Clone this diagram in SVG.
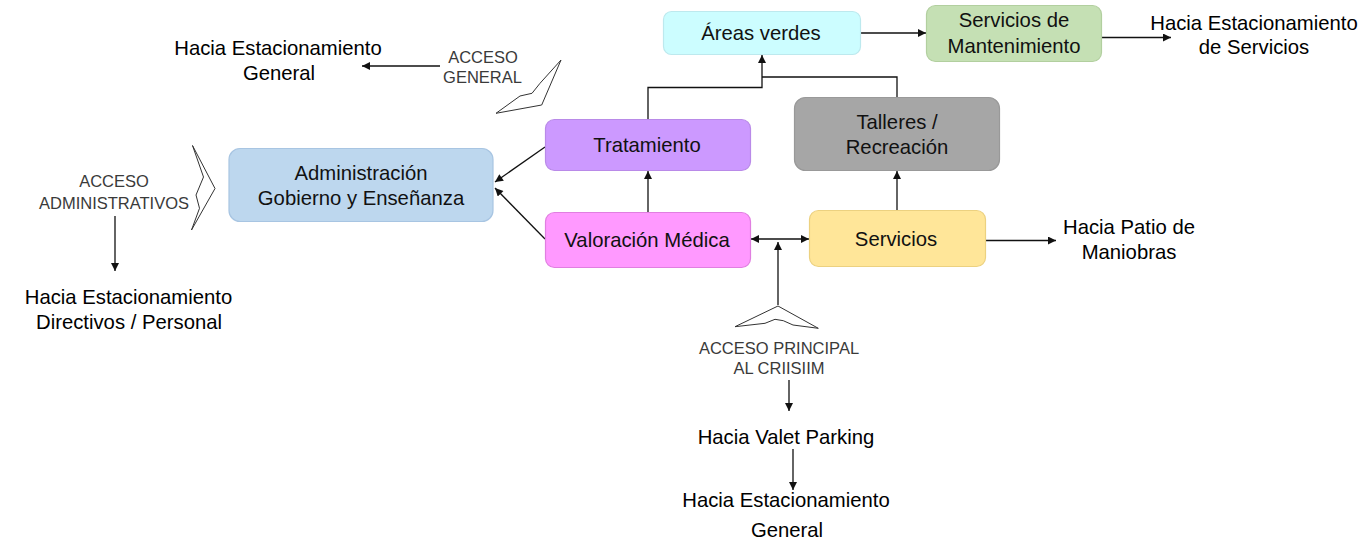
<svg xmlns="http://www.w3.org/2000/svg" width="1363" height="544" viewBox="0 0 1363 544">
<defs>
<marker id="ah" viewBox="0 0 10 10" refX="10" refY="5" markerWidth="9" markerHeight="8" markerUnits="userSpaceOnUse" orient="auto-start-reverse">
<path d="M0,0 L10,5 L0,10 z" fill="#111"/>
</marker>
<style>
.box{stroke-width:1.2}
.lbl{font-family:"Liberation Sans",Arial,sans-serif;font-size:20.3px;fill:#111;text-anchor:middle}
.txt{font-family:"Liberation Sans",Arial,sans-serif;font-size:20.3px;fill:#000;text-anchor:middle}
.acc{font-family:"Liberation Sans",Arial,sans-serif;font-size:16.5px;fill:#3a3a3a;text-anchor:middle}
.ln{fill:none;stroke:#111;stroke-width:1.3}
.chev{fill:#fff;stroke:#333;stroke-width:1}
</style>
</defs>
<rect width="1363" height="544" fill="#fff"/>

<g id="connectors">
<path class="ln" d="M545,147 L495,182" marker-end="url(#ah)"/>
<path class="ln" d="M545,239 L495,188" marker-end="url(#ah)"/>
<path class="ln" d="M648,212 L648,171" marker-end="url(#ah)"/>
<path class="ln" d="M648,119 L648,87.5 L762,87.5 L762,55" marker-end="url(#ah)"/>
<path class="ln" d="M897,97 L897,77 L762,77"/>
<path class="ln" d="M897,211 L897,171" marker-end="url(#ah)"/>
<path class="ln" d="M861,33 L926,33" marker-end="url(#ah)"/>
<path class="ln" d="M1102,37.5 L1171,37.5" marker-end="url(#ah)"/>
<path class="ln" d="M985,240.5 L1056,240.5" marker-end="url(#ah)"/>
<path class="ln" d="M751,239 L809,239" marker-start="url(#ah)" marker-end="url(#ah)"/>
<path class="ln" d="M778,305 L778,242" marker-end="url(#ah)"/>
<path class="ln" d="M440,66 L362,66" marker-end="url(#ah)"/>
<path class="ln" d="M115,216 L115,271" marker-end="url(#ah)"/>
<path class="ln" d="M789,380 L789,411" marker-end="url(#ah)"/>
<path class="ln" d="M793,449 L793,490" marker-end="url(#ah)"/>
</g>

<g id="acceso-general">
<polygon class="chev" points="561,60 541.7,105 496,113.3 520,96 532,93.3 540,83.3"/>
<text class="acc" x="483" y="62.5">ACCESO</text>
<text class="acc" x="482.5" y="82.5">GENERAL</text>
</g>

<g id="acceso-administrativos">
<polygon class="chev" points="192.5,145.5 215,188.5 191.5,230 199.5,208.3 196,195 203.5,177"/>
<text class="acc" x="114" y="187">ACCESO</text>
<text class="acc" x="114" y="208.5">ADMINISTRATIVOS</text>
</g>

<g id="acceso-principal">
<polygon class="chev" points="778,306 818.3,328.3 793,325 783.3,320.7 775,319.3 765,323.3 735,326.7"/>
<text class="acc" x="779" y="354">ACCESO PRINCIPAL</text>
<text class="acc" x="779" y="374">AL CRIISIIM</text>
</g>

<g id="administracion">
<rect class="box" x="229" y="148.5" width="264" height="73" rx="11" fill="#bdd7ee" stroke="#a8c5e2"/>
<text class="lbl" x="361" y="179.5">Administración</text>
<text class="lbl" x="361" y="205">Gobierno y Enseñanza</text>
</g>

<g id="tratamiento">
<rect class="box" x="545.5" y="119.5" width="205" height="51" rx="9" fill="#cc99ff" stroke="#b98ae8"/>
<text class="lbl" x="647" y="152">Tratamiento</text>
</g>

<g id="valoracion">
<rect class="box" x="545.5" y="212.5" width="205" height="55" rx="9" fill="#ff99ff" stroke="#e07fe0"/>
<text class="lbl" x="647" y="246.5">Valoración Médica</text>
</g>

<g id="areas-verdes">
<rect class="box" x="663.5" y="11.5" width="197" height="43" rx="8" fill="#ccfdff" stroke="#bde9ee"/>
<text class="lbl" x="761" y="39.5">Áreas verdes</text>
</g>

<g id="mantenimiento">
<rect class="box" x="926.5" y="5.5" width="175" height="56" rx="9" fill="#c5e0b4" stroke="#b2cf9f"/>
<text class="lbl" x="1014" y="27">Servicios de</text>
<text class="lbl" x="1014" y="53">Mantenimiento</text>
</g>

<g id="talleres">
<rect class="box" x="794.5" y="97.5" width="205" height="73" rx="11" fill="#a6a6a6" stroke="#999"/>
<text class="lbl" x="897" y="129">Talleres /</text>
<text class="lbl" x="897" y="154">Recreación</text>
</g>

<g id="servicios">
<rect class="box" x="809.5" y="210.5" width="176" height="56" rx="9" fill="#ffe699" stroke="#ecd180"/>
<text class="lbl" x="896" y="246">Servicios</text>
</g>

<g id="hacia-est-general-top">
<text class="txt" x="278" y="54.5">Hacia Estacionamiento</text>
<text class="txt" x="279" y="80">General</text>
</g>

<g id="hacia-est-servicios">
<text class="txt" x="1254" y="29.5">Hacia Estacionamiento</text>
<text class="txt" x="1254" y="53.5">de Servicios</text>
</g>

<g id="hacia-patio">
<text class="txt" x="1129" y="233.5">Hacia Patio de</text>
<text class="txt" x="1129" y="258.5">Maniobras</text>
</g>

<g id="hacia-est-directivos">
<text class="txt" x="128.5" y="303.5">Hacia Estacionamiento</text>
<text class="txt" x="129" y="328.5">Directivos / Personal</text>
</g>

<g id="hacia-valet">
<text class="txt" x="786" y="443.5">Hacia Valet Parking</text>
</g>

<g id="hacia-est-general-bottom">
<text class="txt" x="786" y="507">Hacia Estacionamiento</text>
<text class="txt" x="787" y="536.5">General</text>
</g>
</svg>
